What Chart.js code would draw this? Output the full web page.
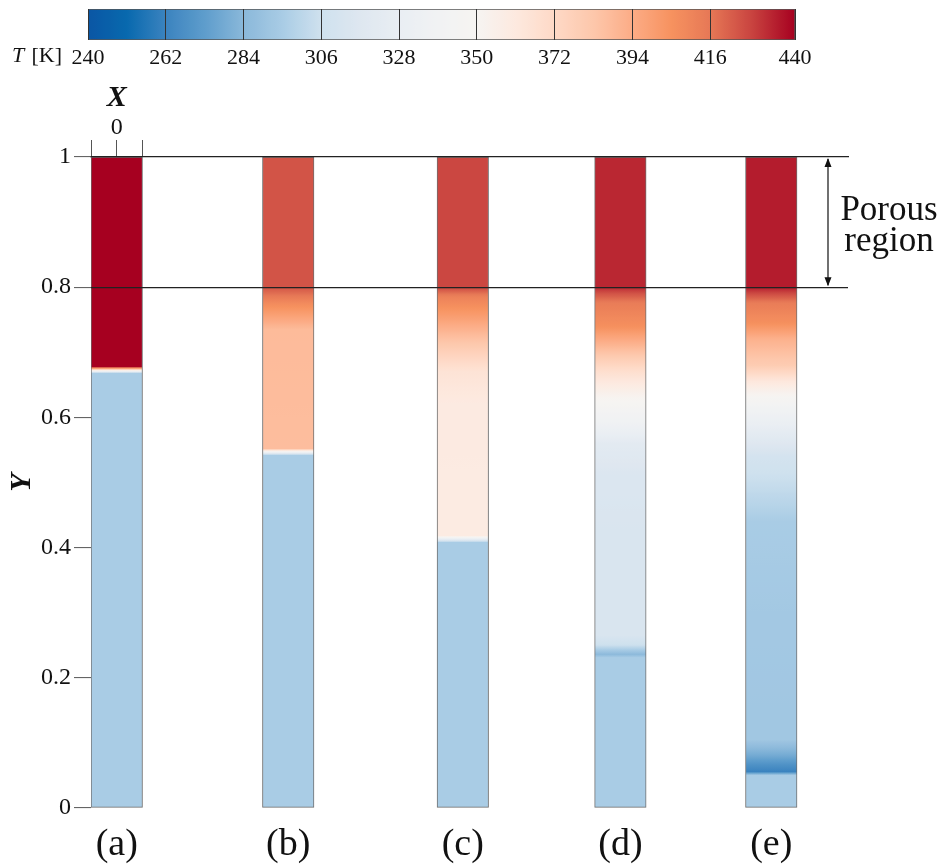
<!DOCTYPE html>
<html>
<head>
<meta charset="utf-8">
<script src="https://cdn.jsdelivr.net/npm/chart.js@4"></script>
<style>
  body { margin: 0; background: #fff; }
  #wrap { position: relative; width: 943px; height: 868px; }
  canvas { position: absolute; left: 0; top: 0; }
</style>
</head>
<body>
<div id="wrap">
  <canvas id="main" width="943" height="868"></canvas>
  <canvas id="cbar" width="943" height="80"></canvas>
</div>
<script>
// temperature profiles T(Y) along each column
const panelLabels = ['(a)', '(b)', '(c)', '(d)', '(e)'];
const colorTicks = [240, 262, 284, 306, 328, 350, 372, 394, 416, 440];

const yA = [0, 0.668, 0.678, 1];
const tA = [295, 295, 440, 440];

const yB = [0, 0.542, 0.552, 0.735, 0.755, 0.775, 0.79, 0.8, 1];
const tB = [295, 295, 387, 388, 398, 408, 418, 424, 424];

const yC = [0, 0.408, 0.418, 0.62, 0.67, 0.72, 0.755, 0.785, 0.8, 1];
const tC = [295, 295, 359, 360, 365, 385, 400, 412, 427, 427];

const yD = [0, 0.231, 0.236, 0.25, 0.265, 0.4, 0.51, 0.56, 0.59, 0.63, 0.67, 0.71, 0.74, 0.775, 0.79, 0.8, 1];
const tD = [295, 295, 285, 305, 313, 313, 315, 322, 336, 351, 368, 390, 406, 414, 424, 433, 433];

const yE = [0, 0.05, 0.056, 0.066, 0.08, 0.105, 0.3, 0.44, 0.465, 0.5, 0.54, 0.58, 0.615, 0.655, 0.68, 0.72, 0.745, 0.775, 0.79, 0.8, 1];
const tE = [295, 295, 262, 268, 278, 292, 293, 295, 299, 304, 310, 325, 340, 362, 380, 392, 406, 414, 426, 435, 435];

const profiles = [[yA, tA], [yB, tB], [yC, tC], [yD, tD], [yE, tE]];

// layout: column centres in X units (column width = 1)
const panelX = [0, 3.33, 6.72, 9.78, 12.71];

// colormap
const cmapT = [240, 251, 262, 273, 284, 295, 306, 317, 328, 339, 350, 361, 372, 383, 394, 405, 416, 428, 440];
const cmapC = ['#0a56a4', '#0869ae', '#3b83bf', '#5e9dcc', '#8ab8da', '#a9cce5', '#cfe1ee', '#dee7f0', '#e9eef3', '#f1f2f3',
               '#f6f4f2', '#fde9df', '#fed9c6', '#fdc7ab', '#fcac86', '#f7925f', '#e67856', '#c8423f', '#a60020'];

const serif = '"Liberation Serif", "Times New Roman", serif';
Chart.defaults.font.family = serif;
Chart.defaults.color = '#111';

function hex(c) {
  return [parseInt(c.slice(1, 3), 16), parseInt(c.slice(3, 5), 16), parseInt(c.slice(5, 7), 16)];
}
const cmapRGB = cmapC.map(hex);

function tempColor(t) {
  if (t <= cmapT[0]) return 'rgb(' + cmapRGB[0].join(',') + ')';
  for (let i = 1; i < cmapT.length; i++) {
    if (t <= cmapT[i]) {
      const f = (t - cmapT[i - 1]) / (cmapT[i] - cmapT[i - 1]);
      const a = cmapRGB[i - 1], b = cmapRGB[i];
      return 'rgb(' + a.map((v, k) => Math.round(v + f * (b[k] - v))).join(',') + ')';
    }
  }
  return 'rgb(' + cmapRGB[cmapRGB.length - 1].join(',') + ')';
}

// column fill: vertical gradient built from the profile through the y scale
function columnFill(ctx) {
  const chart = ctx.chart;
  if (!chart.chartArea || ctx.dataIndex === undefined) return '#ccc';
  const ys = chart.scales.y;
  const [py, pt] = profiles[ctx.dataIndex];
  const g = chart.ctx.createLinearGradient(0, ys.getPixelForValue(0), 0, ys.getPixelForValue(1));
  const steps = 8;
  for (let k = 0; k < py.length - 1; k++) {
    for (let s = 0; s < steps; s++) {
      const f = s / steps;
      g.addColorStop(py[k] + f * (py[k + 1] - py[k]), tempColor(pt[k] + f * (pt[k + 1] - pt[k])));
    }
  }
  g.addColorStop(1, tempColor(pt[pt.length - 1]));
  return g;
}

const extras = {
  id: 'extras',
  afterDraw(chart) {
    const c = chart.ctx, ys = chart.scales.y, xt = chart.scales.xTop;
    c.save();
    c.fillStyle = '#111';
    c.textAlign = 'center';
    c.textBaseline = 'middle';
    c.font = 'italic bold 30px ' + serif;
    c.fillText('X', xt.getPixelForValue(0), 98);

    // porous region arrow
    const ax = chart.chartArea.right - 20;
    const y1 = ys.getPixelForValue(1), y2 = ys.getPixelForValue(0.8);
    c.strokeStyle = '#111';
    c.lineWidth = 1.2;
    c.beginPath();
    c.moveTo(ax, y1 + 2);
    c.lineTo(ax, y2 - 2);
    c.stroke();
    c.beginPath();
    c.moveTo(ax, y1 + 1); c.lineTo(ax - 3.5, y1 + 10); c.lineTo(ax + 3.5, y1 + 10); c.closePath();
    c.moveTo(ax, y2 - 1); c.lineTo(ax - 3.5, y2 - 10); c.lineTo(ax + 3.5, y2 - 10); c.closePath();
    c.fill();

    c.font = '35px ' + serif;
    c.textBaseline = 'alphabetic';
    c.fillText('Porous', chart.chartArea.right + 41, 220);
    c.fillText('region', chart.chartArea.right + 41, 251);
    c.restore();
  }
};

new Chart(document.getElementById('main'), {
  type: 'bar',
  data: {
    datasets: [{
      data: panelX.map(x => ({ x: x, y: [0, 1] })),
      backgroundColor: columnFill,
      borderColor: '#6e6e6e',
      borderWidth: 1,
      borderSkipped: false,
      barThickness: 51.5
    }]
  },
  options: {
    responsive: false,
    animation: false,
    layout: { padding: { top: 80, right: 95, left: 0, bottom: 0 } },
    plugins: { legend: { display: false }, tooltip: { enabled: false } },
    scales: {
      x: {
        type: 'linear', position: 'bottom', min: -0.5, max: 14.2, offset: false,
        afterBuildTicks: s => { s.ticks = panelX.map(v => ({ value: v })); },
        afterFit: s => { s.height = 60; },
        grid: { display: false, drawTicks: false, offset: false },
        border: { display: false },
        ticks: { autoSkip: false, maxRotation: 0, padding: 14, font: { size: 38 },
                 callback: (v, i) => panelLabels[i] }
      },
      xTop: {
        type: 'linear', position: 'top', min: -0.5, max: 14.2, offset: false,
        afterBuildTicks: s => { s.ticks = [-0.5, 0, 0.5].map(v => ({ value: v })); },
        afterFit: s => { s.height = 77; },
        grid: { drawOnChartArea: false, offset: false, tickLength: 17, color: '#555', lineWidth: 1 },
        border: { display: true, color: '#222', width: 1.2, z: 1 },
        ticks: { autoSkip: false, maxRotation: 0, padding: 0, font: { size: 24, lineHeight: 1 },
                 callback: v => (v === 0 ? '0' : '') }
      },
      y: {
        min: 0, max: 1,
        afterFit: s => { s.width = 91; },
        ticks: { stepSize: 0.2, padding: 3, font: { size: 24 },
                 callback: v => String(Math.round(v * 10) / 10) },
        grid: {
          z: 1, tickLength: 17, tickColor: '#555', tickWidth: 1, lineWidth: 1.2,
          color: c => (c.tick && Math.abs(c.tick.value - 0.8) < 1e-6 ? '#222' : 'rgba(0,0,0,0)')
        },
        border: { display: false },
        title: { display: true, text: 'Y', font: { size: 30, weight: 'bold', style: 'italic' },
                 padding: { top: 4, bottom: 0 } }
      }
    }
  },
  plugins: [extras]
});

// colour bar
function barFill(ctx) {
  const chart = ctx.chart;
  if (!chart.chartArea) return '#ccc';
  const xs = chart.scales.x;
  const g = chart.ctx.createLinearGradient(xs.getPixelForValue(240), 0, xs.getPixelForValue(440), 0);
  for (let t = 240; t <= 440; t += 1) g.addColorStop((t - 240) / 200, tempColor(t));
  return g;
}

new Chart(document.getElementById('cbar'), {
  type: 'bar',
  data: {
    labels: ['T'],
    datasets: [{
      data: [[240, 440]],
      backgroundColor: barFill,
      borderColor: '#555',
      borderWidth: 1,
      borderSkipped: false,
      barPercentage: 1,
      categoryPercentage: 1
    }]
  },
  options: {
    indexAxis: 'y',
    responsive: false,
    animation: false,
    layout: { padding: { left: 88, right: 148, top: 9, bottom: 0 } },
    plugins: { legend: { display: false }, tooltip: { enabled: false } },
    scales: {
      x: {
        type: 'linear', min: 240, max: 440,
        afterBuildTicks: s => { s.ticks = colorTicks.map(v => ({ value: v })); },
        afterFit: s => { s.height = 40; },
        grid: { drawTicks: false, color: '#333', lineWidth: 1, z: 1 },
        border: { display: false },
        ticks: { autoSkip: false, maxRotation: 0, padding: 5, font: { size: 22 } }
      },
      y: { display: false }
    }
  },
  plugins: [{
    id: 'unit',
    afterDraw(chart) {
      const c = chart.ctx;
      c.save();
      c.fillStyle = '#111';
      c.textBaseline = 'middle';
      c.textAlign = 'left';
      c.font = 'italic 22px ' + serif;
      c.fillText('T', 12, 56);
      c.font = '22px ' + serif;
      c.textAlign = 'right';
      c.fillText('[K]', 62, 56);
      c.restore();
    }
  }]
});
</script>
</body>
</html>
